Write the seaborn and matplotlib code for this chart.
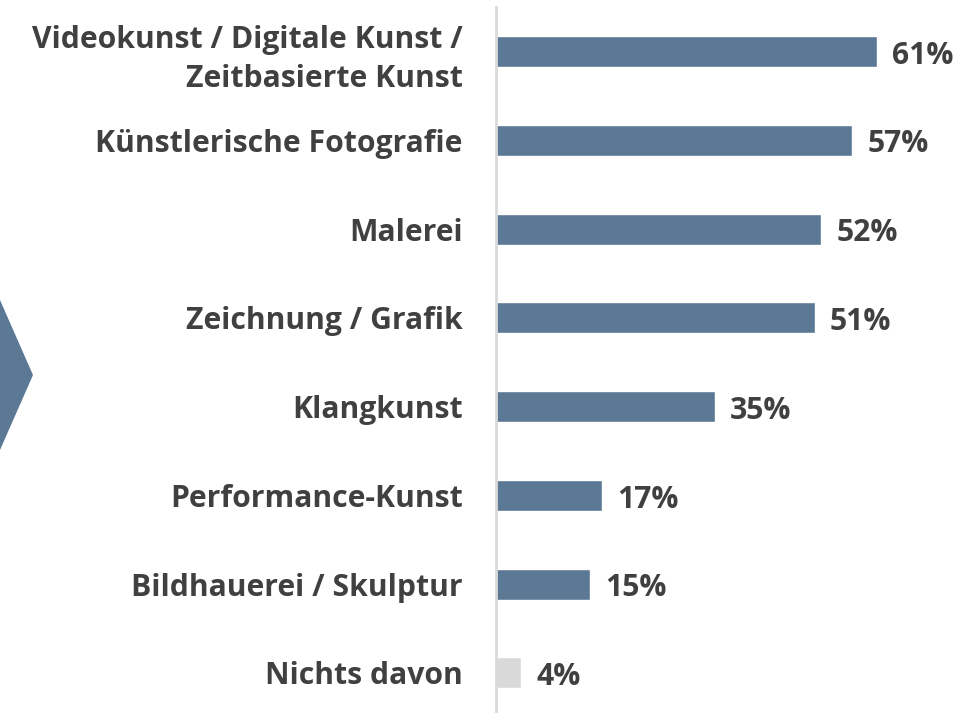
import matplotlib
matplotlib.use("Agg")
import matplotlib.pyplot as plt
from matplotlib.patches import Polygon
import seaborn as sns
import pandas as pd

categories = [
    "Videokunst / Digitale Kunst /\nZeitbasierte Kunst",
    "Künstlerische Fotografie",
    "Malerei",
    "Zeichnung / Grafik",
    "Klangkunst",
    "Performance-Kunst",
    "Bildhauerei / Skulptur",
    "Nichts davon",
]
values = [61, 57, 52, 51, 35, 17, 15, 4]
value_labels = ["61%", "57%", "52%", "51%", "35%", "17%", "15%", "4%"]

BLUE = "#5B7895"
GREY = "#D9D9D9"
TEXT = "#404040"
bar_colors = [BLUE] * 7 + [GREY]
FS = 21.7

sns.set_theme(style="white")
plt.rcParams["font.family"] = ["Open Sans", "DejaVu Sans"]

df = pd.DataFrame({"Kategorie": categories, "Anteil": values})

fig = plt.figure(figsize=(9.79, 7.13), dpi=100)
ax = fig.add_axes([0.5066, -0.006, 0.4934, 0.996])

sns.barplot(data=df, y="Kategorie", x="Anteil", hue="Kategorie",
            palette=bar_colors, legend=False, width=0.35, ax=ax,
            orient="h", saturation=1)

ax.set_xlim(0, 77.3)
ax.set_ylim(len(categories) - 0.5, -0.5)
ax.set_xlabel("")
ax.set_ylabel("")
ax.set_xticks([])

for s in ["top", "right", "bottom"]:
    ax.spines[s].set_visible(False)
ax.spines["left"].set_color(GREY)
ax.spines["left"].set_linewidth(2)

ax.tick_params(axis="y", length=0, pad=24)
for lbl in ax.get_yticklabels():
    lbl.set_fontweight("bold")
    lbl.set_fontsize(FS)
    lbl.set_color(TEXT)
    lbl.set_horizontalalignment("right")
    lbl.set_multialignment("right")
    lbl.set_linespacing(1.37)

for i, (v, t) in enumerate(zip(values, value_labels)):
    ax.annotate(t, xy=(v, i), xytext=(11, -3), textcoords="offset points",
                ha="left", va="center", fontsize=FS, fontweight="bold",
                color=TEXT)

# chevron marker on the left edge
W, H = 979, 713
pts = [(0, 300), (33, 375), (0, 450)]
fig.patches.append(Polygon([(x / W, 1 - y / H) for x, y in pts], closed=True,
                           transform=fig.transFigure, facecolor=BLUE,
                           edgecolor="none"))

fig.savefig("out.png", dpi=100)
